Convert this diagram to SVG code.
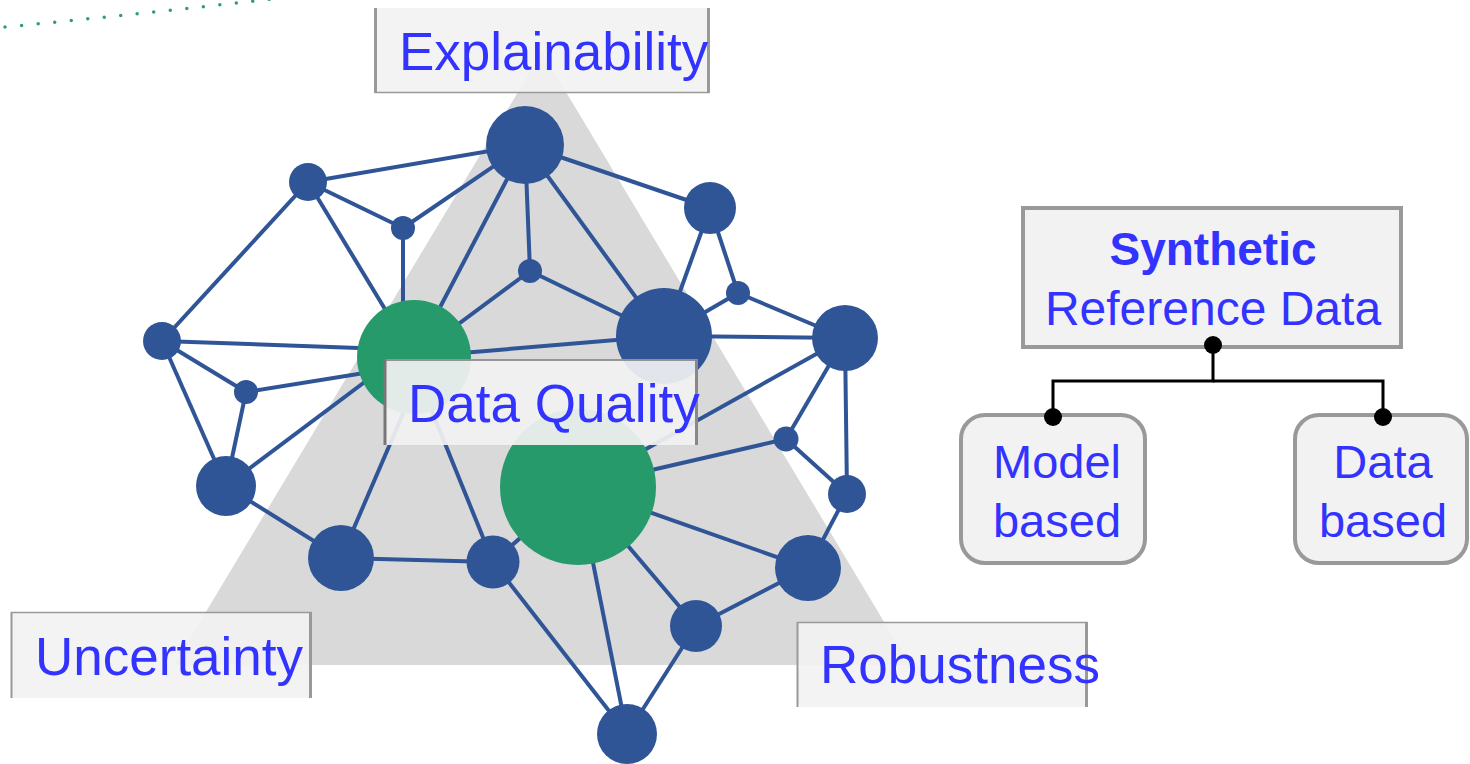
<svg xmlns="http://www.w3.org/2000/svg" width="1470" height="764" viewBox="0 0 1470 764">
<style>
.e{stroke:#2F5597;stroke-width:4;fill:none}
.b{fill:#2F5597}
.g{fill:#279A6B}
.lbl{font-family:"Liberation Sans",Arial,sans-serif;fill:#3333FF}
.box{fill:#F2F2F2;fill-opacity:0.92}
.bd{stroke:#999999;fill:none}
.rb{fill:#F2F2F2;stroke:#999999;stroke-width:4}
.k{stroke:#000;stroke-width:3;fill:none}
</style>
<rect width="1470" height="764" fill="#FFFFFF"/>
<path d="M5,27 Q140,14 272,-1" stroke="#2F9A80" stroke-width="3.5" stroke-linecap="round" stroke-dasharray="0 16.6" fill="none"/>
<polygon points="542,52 910,665 174,665" fill="#D9D9D9"/>
<g id="connectors">
<line class="e" x1="525" y1="145" x2="308" y2="182"/>
<line class="e" x1="525" y1="145" x2="403" y2="228"/>
<line class="e" x1="525" y1="145" x2="710" y2="208"/>
<line class="e" x1="525" y1="145" x2="530" y2="271"/>
<line class="e" x1="525" y1="145" x2="414" y2="357"/>
<line class="e" x1="525" y1="145" x2="664" y2="336"/>
<line class="e" x1="308" y1="182" x2="403" y2="228"/>
<line class="e" x1="308" y1="182" x2="162" y2="341"/>
<line class="e" x1="308" y1="182" x2="414" y2="357"/>
<line class="e" x1="403" y1="228" x2="403" y2="357"/>
<line class="e" x1="530" y1="271" x2="414" y2="357"/>
<line class="e" x1="530" y1="271" x2="664" y2="336"/>
<line class="e" x1="162" y1="341" x2="414" y2="350"/>
<line class="e" x1="162" y1="341" x2="246" y2="392"/>
<line class="e" x1="162" y1="341" x2="226" y2="486"/>
<line class="e" x1="246" y1="392" x2="414" y2="365"/>
<line class="e" x1="414" y1="357" x2="664" y2="336"/>
<line class="e" x1="226" y1="486" x2="414" y2="345"/>
<line class="e" x1="246" y1="392" x2="226" y2="486"/>
<line class="e" x1="226" y1="486" x2="341" y2="558"/>
<line class="e" x1="341" y1="558" x2="424" y2="365"/>
<line class="e" x1="493" y1="562" x2="412" y2="362"/>
<line class="e" x1="341" y1="558" x2="493" y2="562"/>
<line class="e" x1="493" y1="562" x2="578" y2="487"/>
<line class="e" x1="493" y1="562" x2="627" y2="734"/>
<line class="e" x1="578" y1="487" x2="627" y2="734"/>
<line class="e" x1="578" y1="487" x2="696" y2="626"/>
<line class="e" x1="578" y1="487" x2="808" y2="568"/>
<line class="e" x1="578" y1="487" x2="786" y2="439"/>
<line class="e" x1="578" y1="487" x2="845" y2="338"/>
<line class="e" x1="696" y1="626" x2="808" y2="568"/>
<line class="e" x1="696" y1="626" x2="627" y2="734"/>
<line class="e" x1="808" y1="568" x2="847" y2="494"/>
<line class="e" x1="786" y1="439" x2="847" y2="494"/>
<line class="e" x1="786" y1="439" x2="845" y2="338"/>
<line class="e" x1="845" y1="338" x2="847" y2="494"/>
<line class="e" x1="664" y1="336" x2="845" y2="338"/>
<line class="e" x1="664" y1="336" x2="738" y2="293"/>
<line class="e" x1="664" y1="336" x2="710" y2="208"/>
<line class="e" x1="710" y1="208" x2="738" y2="293"/>
<line class="e" x1="738" y1="293" x2="845" y2="338"/>
<polyline class="k" points="1213,345 1213,381 1053,381 1053,417"/>
<polyline class="k" points="1213,381 1383,381 1383,417"/>
</g>
<g id="n1"><circle class="b" cx="525" cy="145" r="39"/></g>
<g id="n2"><circle class="b" cx="308" cy="182" r="19"/></g>
<g id="n3"><circle class="b" cx="403" cy="228" r="12"/></g>
<g id="n4"><circle class="b" cx="530" cy="271" r="12"/></g>
<g id="n5"><circle class="b" cx="162" cy="341" r="19"/></g>
<g id="n6"><circle class="g" cx="414" cy="357" r="57"/></g>
<g id="n7"><circle class="b" cx="246" cy="392" r="12"/></g>
<g id="n8"><circle class="b" cx="710" cy="208" r="26"/></g>
<g id="n9"><circle class="b" cx="738" cy="293" r="12"/></g>
<g id="n10"><circle class="b" cx="664" cy="336" r="48"/></g>
<g id="n11"><circle class="b" cx="845" cy="338" r="33"/></g>
<g id="n12"><circle class="b" cx="786" cy="439" r="12.5"/></g>
<g id="n13"><circle class="b" cx="847" cy="494" r="19"/></g>
<g id="n14"><circle class="g" cx="578" cy="487" r="78"/></g>
<g id="n15"><circle class="b" cx="226" cy="486" r="30"/></g>
<g id="n16"><circle class="b" cx="341" cy="558" r="33"/></g>
<g id="n17"><circle class="b" cx="493" cy="562" r="26.5"/></g>
<g id="n18"><circle class="b" cx="808" cy="568" r="33"/></g>
<g id="n19"><circle class="b" cx="696" cy="626" r="26"/></g>
<g id="n20"><circle class="b" cx="627" cy="734" r="30"/></g>
<g id="explainability">
<rect class="box" x="375" y="8" width="335" height="85"/>
<line class="bd" x1="375.5" y1="8" x2="375.5" y2="93" stroke-width="3"/>
<line class="bd" x1="708.5" y1="8" x2="708.5" y2="93" stroke-width="3"/>
<line class="bd" x1="375" y1="92.5" x2="710" y2="92.5" stroke-width="1.5"/>
<text class="lbl" x="399" y="70" font-size="53">Explainability</text>
</g>
<g id="dataquality">
<rect class="box" x="384" y="359" width="314" height="86" fill-opacity="0.88"/>
<line x1="384" y1="360" x2="698" y2="360" stroke="#777" stroke-width="1.5"/>
<line x1="385" y1="359" x2="385" y2="445" stroke="#777" stroke-width="3"/>
<line x1="696.5" y1="359" x2="696.5" y2="445" stroke="#888" stroke-width="3"/>
<text class="lbl" x="408" y="422" font-size="53">Data Quality</text>
</g>
<g id="uncertainty">
<rect class="box" x="11" y="612" width="301" height="86"/>
<line class="bd" x1="11" y1="612.5" x2="312" y2="612.5" stroke-width="1.5"/>
<line class="bd" x1="11.5" y1="612" x2="11.5" y2="698" stroke-width="2"/>
<line class="bd" x1="310.5" y1="612" x2="310.5" y2="698" stroke-width="3"/>
<text class="lbl" x="35" y="675" font-size="53">Uncertainty</text>
</g>
<g id="robustness">
<rect class="box" x="797" y="622" width="291" height="85"/>
<line class="bd" x1="797" y1="622.5" x2="1088" y2="622.5" stroke-width="1.5"/>
<line class="bd" x1="797.5" y1="622" x2="797.5" y2="707" stroke-width="2"/>
<line class="bd" x1="1086.5" y1="622" x2="1086.5" y2="707" stroke-width="3"/>
<text class="lbl" x="820" y="683" font-size="53">Robustness</text>
</g>
<g id="synthetic">
<rect class="rb" x="1023" y="208" width="378" height="139"/>
<text class="lbl" x="1213" y="265" font-size="46" font-weight="bold" text-anchor="middle">Synthetic</text>
<text class="lbl" x="1213" y="325" font-size="48" text-anchor="middle">Reference Data</text>
</g>
<g id="modelbased">
<rect class="rb" x="961" y="415" width="184" height="148" rx="24"/>
<text class="lbl" x="1057" y="478" font-size="47" text-anchor="middle">Model</text>
<text class="lbl" x="1057" y="537" font-size="47" text-anchor="middle">based</text>
</g>
<g id="databased">
<rect class="rb" x="1295" y="415" width="172" height="148" rx="24"/>
<text class="lbl" x="1383" y="478" font-size="47" text-anchor="middle">Data</text>
<text class="lbl" x="1383" y="537" font-size="47" text-anchor="middle">based</text>
</g>
<g id="dots">
<circle cx="1213" cy="345" r="9"/>
<circle cx="1053" cy="417" r="9"/>
<circle cx="1383" cy="417" r="9"/>
</g>
</svg>
